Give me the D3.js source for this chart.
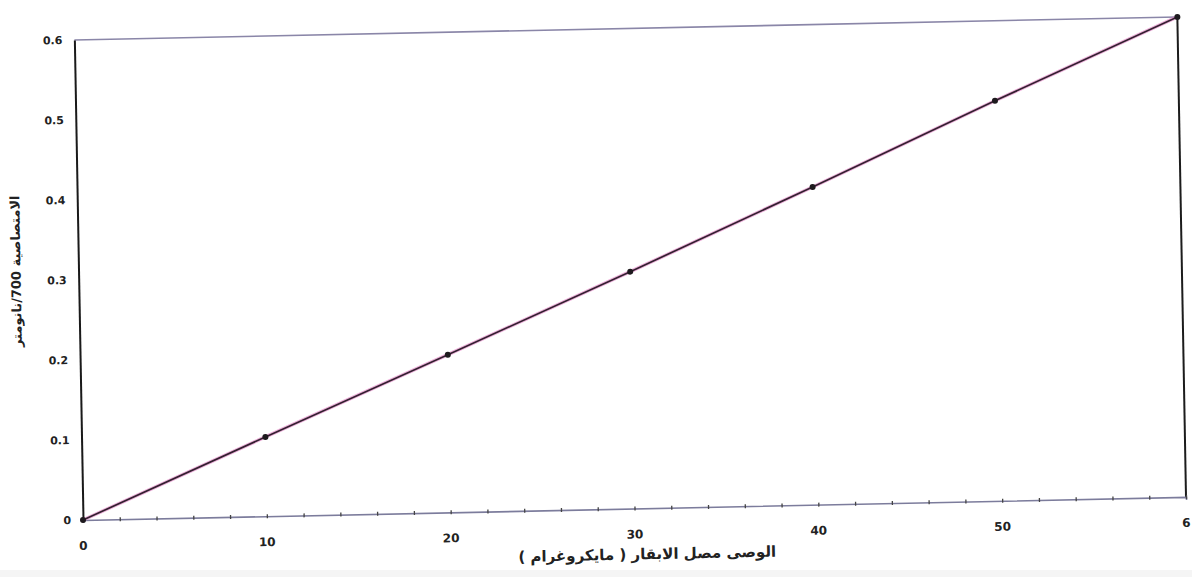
<!DOCTYPE html>
<html>
<head>
<meta charset="utf-8">
<script src="https://cdn.jsdelivr.net/npm/d3@7"></script>
<style>
  body { margin: 0; background: #fff; }
  text { font-family: "DejaVu Sans", sans-serif; fill: #222; }
</style>
</head>
<body>
<svg class="chart"></svg>
<script>
// data
const xValues = [0, 10, 20, 30, 40, 50, 60];
const absorbance = [0, 0.099, 0.197, 0.296, 0.397, 0.5, 0.6];
const xTicks = [0, 10, 20, 30, 40, 50, 60];
const xTickLabels = ['0', '10', '20', '30', '40', '50', '6'];
const yTicks = [0, 0.1, 0.2, 0.3, 0.4, 0.5, 0.6];
const yTickLabels = ['0', '0.1', '0.2', '0.3', '0.4', '0.5', '0.6'];
const xTitle = 'الوصى مصل الابقار ( مايكروغرام )';
const yTitle = 'الامتصاصية 700/نانومتر';

const width = 1192;
const height = 577;
const plotW = 1103;
const plotH = 480;

const svg = d3.select('.chart')
  .attr('width', width)
  .attr('height', height);

// faint grey edge of the scan
svg.append('rect')
  .attr('x', 0).attr('y', 570)
  .attr('width', width).attr('height', 7)
  .attr('fill', '#f5f5f5');

const x = d3.scaleLinear().domain([0, 60]).range([0, plotW]);
const y = d3.scaleLinear().domain([0, 0.6]).range([plotH, 0]);

// the scan is slightly tilted, so the plot group is sheared a little
const shear = 0.018;
const tilt = -0.0209;
const g = svg.append('g')
  .attr('transform', `matrix(1, ${tilt}, ${shear}, 1, ${83 - plotH * shear}, 40)`);

// top frame line
g.append('line')
  .attr('x1', x(0)).attr('x2', x(60))
  .attr('y1', y(0.6)).attr('y2', y(0.6))
  .attr('stroke', '#8a86a8').attr('stroke-width', 1.6);

// right frame line
g.append('line')
  .attr('x1', x(60)).attr('x2', x(60))
  .attr('y1', y(0)).attr('y2', y(0.6))
  .attr('stroke', '#1c1c1c').attr('stroke-width', 2);

// x axis with minor ticks every 2 units
const xAxis = d3.axisBottom(x)
  .tickValues(d3.range(0, 61, 2))
  .tickSize(3)
  .tickFormat('');
const gx = g.append('g')
  .attr('transform', `translate(0, ${plotH})`)
  .call(xAxis);
gx.select('.domain').attr('stroke', '#7c7c9c').attr('stroke-width', 1.6);
gx.selectAll('.tick line')
  .attr('y1', -2).attr('y2', 2)
  .attr('stroke', '#444').attr('stroke-width', 1.3);

gx.selectAll('.xlab')
  .data(xTicks)
  .enter().append('text')
  .attr('class', 'xlab')
  .attr('x', d => x(d))
  .attr('y', 30)
  .attr('text-anchor', 'middle')
  .attr('font-size', 12)
  .attr('font-weight', 'bold')
  .text((d, i) => xTickLabels[i]);

// y axis
const yAxis = d3.axisLeft(y).tickValues(yTicks).tickSize(0).tickFormat('');
const gy = g.append('g').call(yAxis);
gy.select('.domain').attr('stroke', '#1a1a1a').attr('stroke-width', 2);

gy.selectAll('.ylab')
  .data(yTicks)
  .enter().append('text')
  .attr('class', 'ylab')
  .attr('x', -12)
  .attr('y', d => y(d))
  .attr('dy', '0.35em')
  .attr('text-anchor', 'end')
  .attr('font-size', 11)
  .attr('font-weight', 'bold')
  .text((d, i) => yTickLabels[i]);

// data line with the pinkish halo of the scan
const line = d3.line()
  .x((d, i) => x(xValues[i]))
  .y(d => y(d));

g.append('path')
  .datum(absorbance)
  .attr('d', line)
  .attr('fill', 'none')
  .attr('stroke', '#e07ac0')
  .attr('stroke-width', 3.5)
  .attr('stroke-opacity', 0.6);

g.append('path')
  .datum(absorbance)
  .attr('d', line)
  .attr('fill', 'none')
  .attr('stroke', '#332030')
  .attr('stroke-width', 1.7);

g.selectAll('.pt')
  .data(absorbance)
  .enter().append('circle')
  .attr('class', 'pt')
  .attr('cx', (d, i) => x(xValues[i]))
  .attr('cy', d => y(d))
  .attr('r', 3)
  .attr('fill', '#1e1a1e');

// axis titles
g.append('text')
  .attr('x', x(30) + 12)
  .attr('y', plotH + 51)
  .attr('text-anchor', 'middle')
  .attr('direction', 'rtl')
  .attr('font-size', 15)
  .attr('font-weight', 'bold')
  .text(xTitle);

g.append('text')
  .attr('transform', `translate(-58, ${y(0.3) - 10}) rotate(-90)`)
  .attr('text-anchor', 'middle')
  .attr('direction', 'rtl')
  .attr('font-size', 13)
  .attr('font-weight', 'bold')
  .text(yTitle);
</script>
</body>
</html>
